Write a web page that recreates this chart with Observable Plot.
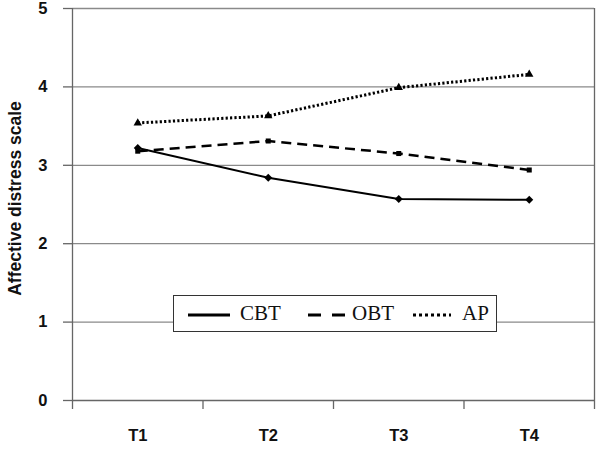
<!DOCTYPE html>
<html><head><meta charset="utf-8">
<script src="https://cdn.jsdelivr.net/npm/d3@7"></script>
<script src="https://cdn.jsdelivr.net/npm/@observablehq/plot@0.6"></script>
<style>
body{margin:0;background:#fff}
#wrap{position:relative;width:600px;height:449px}
#wrap svg text{font-family:"Liberation Sans",Arial,sans-serif !important;font-weight:bold !important;font-size:16.5px !important;fill:#111}
#wrap svg .ytitle text{font-size:17.5px !important}
#legend{position:absolute;left:173px;top:295px;width:322px;height:35px;border:1.6px solid #333;background:#fff;font-family:"Liberation Serif","Times New Roman",serif;font-size:21px;color:#111}
#legend .lab{position:absolute;top:4px;line-height:26px}
#legend svg{position:absolute;top:0;left:0}
</style>
</head><body><div id="wrap"></div>
<script>
const times = ["T1", "T2", "T3", "T4"];
const cbt = [3.22, 2.84, 2.57, 2.56];
const obt = [3.18, 3.31, 3.15, 2.94];
const ap = [3.54, 3.63, 3.99, 4.16];
const yTicks = [0, 1, 2, 3, 4, 5];
const seriesNames = ["CBT", "OBT", "AP"];

const styles = {
  CBT: {dash: null, width: 2, symbol: "diamond2", r: 3.6},
  OBT: {dash: "10,6", width: 2.5, symbol: "square2", r: 3.2},
  AP: {dash: "2.2,2.2", width: 3, symbol: "triangle2", r: 4}
};
const valuesBy = {CBT: cbt, OBT: obt, AP: ap};
const rows = [];
for (const s of seriesNames) valuesBy[s].forEach((v, i) => rows.push({series: s, pos: i + 0.5, value: v}));

const lineMarks = seriesNames.flatMap(s => {
  const st = styles[s];
  const data = rows.filter(d => d.series === s);
  return [
    Plot.line(data, {x: "pos", y: "value", stroke: "#000", strokeWidth: st.width, strokeDasharray: st.dash, strokeLinecap: "butt"}),
    Plot.dot(data, {x: "pos", y: "value", symbol: () => st.symbol, r: st.r, fill: "#000", stroke: "none"})
  ];
});

const chart = Plot.plot({
  width: 600,
  height: 449,
  marginLeft: 72,
  marginRight: 6,
  marginTop: 8,
  marginBottom: 49,
  style: {fontFamily: "'Liberation Sans', Arial, sans-serif", fontWeight: "bold", color: "#111", background: "#fff"},
  x: {domain: [0, times.length]},
  y: {domain: [0, 5]},
  marks: [
    Plot.gridY({ticks: yTicks.filter(t => t > 0), stroke: "#8a8a8a", strokeOpacity: 1, strokeWidth: 1.3}),
    Plot.ruleX([0, times.length], {stroke: "#666", strokeWidth: 1.3}),
    Plot.ruleY([0], {stroke: "#666", strokeWidth: 1.3}),
    Plot.axisY({ticks: yTicks, tickSize: 9, tickPadding: 16, tickFormat: d3.format("d"), stroke: "#666", strokeWidth: 1.3, label: null}),
    Plot.axisX({ticks: d3.range(times.length + 1), tickSize: 9, tickFormat: () => "", stroke: "#666", strokeWidth: 1.3, label: null}),
    Plot.axisX({ticks: times.map((t, i) => i + 0.5), tickSize: 0, tickPadding: 29, tickFormat: d => times[Math.round(d - 0.5)], label: null}),
    Plot.text(["Affective distress scale"], {frameAnchor: "left", textAnchor: "middle", rotate: -90, dx: -57, dy: -6, fill: "#111", className: "ytitle"}),
    ...lineMarks
  ]
});
const wrap = document.getElementById("wrap");
wrap.appendChild(chart);

// legend
const legend = document.createElement("div");
legend.id = "legend";
const ns = "http://www.w3.org/2000/svg";
const sw = document.createElementNS(ns, "svg");
sw.setAttribute("width", 322); sw.setAttribute("height", 35);
legend.appendChild(sw);
const entries = [
  {name: "CBT", x1: 14, x2: 56, tx: 66},
  {name: "OBT", x1: 134, x2: 174, tx: 178},
  {name: "AP", x1: 239, x2: 277, tx: 288}
];
entries.forEach(e => {
  const ln = document.createElementNS(ns, "line");
  ln.setAttribute("x1", e.x1); ln.setAttribute("x2", e.x2);
  ln.setAttribute("y1", 19); ln.setAttribute("y2", 19);
  ln.setAttribute("stroke", "#000");
  ln.setAttribute("stroke-width", e.name === "CBT" ? 3 : 3.2);
  if (e.name === "OBT") ln.setAttribute("stroke-dasharray", "13,11");
  if (e.name === "AP") ln.setAttribute("stroke-dasharray", "3,3");
  sw.appendChild(ln);
  const t = document.createElement("div");
  t.className = "lab";
  t.style.left = e.tx + "px";
  t.textContent = e.name;
  legend.appendChild(t);
});
wrap.appendChild(legend);
</script>
</body></html>
